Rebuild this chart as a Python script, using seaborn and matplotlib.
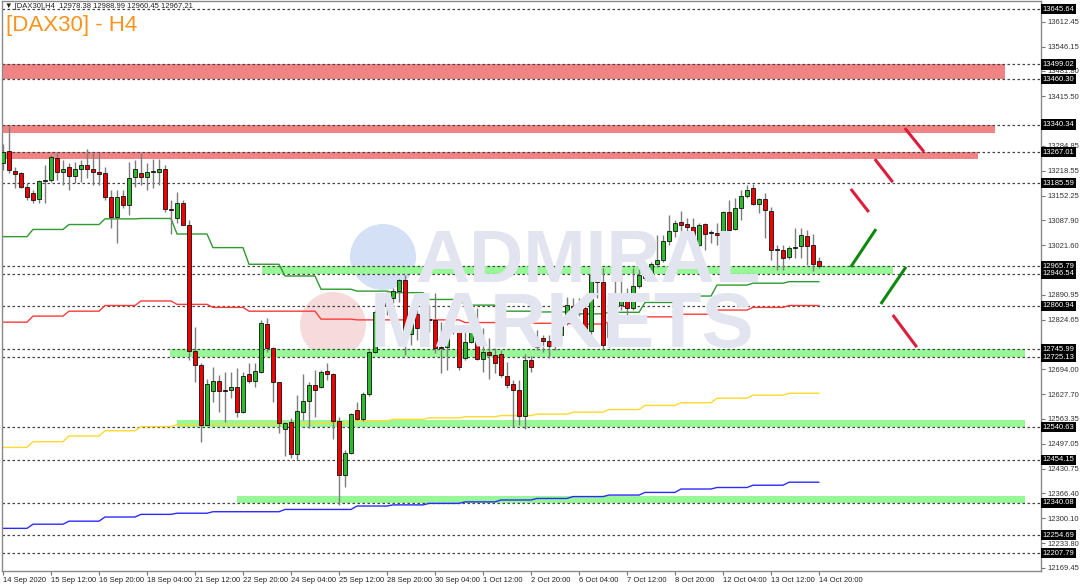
import numpy as np
import pandas as pd
import seaborn as sns
import matplotlib.pyplot as plt
import matplotlib.transforms as mtransforms
from matplotlib.patches import Rectangle, Ellipse

sns.set_style("white")
plt.rcParams["font.family"] = ["Liberation Sans", "DejaVu Sans"]

# H4 candles, 14 Sep 04:00 .. 14 Oct 20:00
opens = [13239, 13271, 13217, 13211, 13176, 13160, 13144, 13190, 13194, 13253,
         13216, 13227, 13204, 13223, 13233, 13223, 13214, 13211, 13150, 13095,
         13151, 13128, 13201, 13211, 13202, 13215, 13214, 13224, 13116, 13092,
         13132, 13076, 12742, 12706, 12546, 12636, 12662, 12639, 12639, 12646,
         12580, 12680, 12662, 12687, 12813, 12751, 12660, 12536, 12553, 12469,
         12581, 12610, 12652, 12646, 12689, 12680, 12557, 12413, 12471, 12587,
         12561, 12627, 12739, 12845, 12861, 12881, 12900, 12929, 12786, 12839,
         12802, 12825, 12824, 12753, 12753, 12799, 12808, 12722, 12766, 12806,
         12720, 12738, 12731, 12733, 12676, 12654, 12640, 12571, 12718, 12753,
         12775, 12768, 12756, 12784, 12822, 12861, 12855, 12856, 12795, 12943,
         12925, 12779, 12817, 12863, 12894, 12855, 12913, 12934, 12947, 12973,
         12982, 13032, 13060, 13083, 13077, 13070, 13022, 13077, 13054, 13053,
         13046, 13110, 13063, 13121, 13151, 13172, 13130, 13143, 13113, 13011,
         13009, 12989, 13013, 13019, 13047, 13022, 12978.38]
highs = [13290, 13336, 13229, 13216, 13185, 13167, 13194, 13233, 13260, 13264,
         13246, 13238, 13242, 13246, 13275, 13264, 13264, 13229, 13167, 13167,
         13167, 13242, 13246, 13264, 13238, 13248, 13248, 13233, 13142, 13163,
         13141, 13088, 12806, 12709, 12669, 12699, 12678, 12687, 12687, 12696,
         12687, 12709, 12709, 12824, 12828, 12753, 12661, 12555, 12564, 12625,
         12680, 12661, 12692, 12692, 12709, 12683, 12568, 12480, 12577, 12608,
         12634, 12744, 12850, 12885, 12899, 12907, 12931, 12943, 12850, 12854,
         12854, 12863, 12894, 12819, 12819, 12868, 12810, 12802, 12815, 12855,
         12802, 12775, 12749, 12744, 12713, 12665, 12665, 12735, 12728, 12797,
         12784, 12784, 12793, 12837, 12885, 12881, 12881, 12876, 12947, 12960,
         12960, 12824, 12956, 12956, 12907, 12960, 12960, 12973, 12978, 13048,
         13048, 13101, 13088, 13113, 13092, 13092, 13079, 13079, 13061, 13079,
         13113, 13141, 13145, 13167, 13180, 13183, 13145, 13160, 13123, 13022,
         13022, 13019, 13066, 13066, 13062, 13051, 12988.99]
lows = [13220, 13211, 13172, 13172, 13141, 13134, 13132, 13132, 13189, 13194,
        13180, 13167, 13185, 13189, 13198, 13180, 13180, 13141, 13068, 13028,
        13121, 13101, 13176, 13180, 13167, 13172, 13180, 13110, 13051, 13079,
        13074, 12718, 12661, 12500, 12546, 12608, 12581, 12555, 12617, 12568,
        12577, 12656, 12647, 12683, 12740, 12608, 12524, 12464, 12458, 12454,
        12559, 12537, 12566, 12643, 12665, 12508, 12335, 12383, 12470, 12559,
        12558, 12624, 12736, 12802, 12837, 12868, 12872, 12731, 12758, 12771,
        12766, 12793, 12736, 12683, 12691, 12788, 12691, 12718, 12762, 12718,
        12687, 12669, 12683, 12674, 12643, 12542, 12546, 12536, 12687, 12744,
        12740, 12722, 12744, 12766, 12810, 12828, 12833, 12775, 12784, 12881,
        12744, 12753, 12793, 12850, 12833, 12850, 12907, 12929, 12938, 12965,
        12978, 13022, 13044, 13044, 13044, 13017, 13013, 13009, 13026, 13022,
        13031, 13057, 13062, 13088, 13145, 13128, 13106, 13040, 12982, 12956,
        12956, 12984, 12987, 12987, 12969, 12954, 12960.45]
closes = [13268, 13220, 13209, 13176, 13150, 13142, 13190, 13193, 13255, 13216,
          13223, 13204, 13223, 13233, 13223, 13216, 13209, 13150, 13095, 13150,
          13128, 13198, 13223, 13202, 13216, 13214, 13224, 13116, 13114, 13132,
          13076, 12742, 12706, 12546, 12654, 12662, 12636, 12637, 12646, 12580,
          12677, 12662, 12689, 12815, 12751, 12660, 12551, 12551, 12469, 12583,
          12610, 12652, 12640, 12687, 12681, 12557, 12413, 12473, 12574, 12561,
          12627, 12739, 12846, 12861, 12881, 12900, 12929, 12786, 12839, 12802,
          12830, 12824, 12751, 12750, 12800, 12806, 12700, 12766, 12806, 12720,
          12738, 12731, 12709, 12678, 12652, 12640, 12571, 12718, 12700, 12772,
          12769, 12756, 12784, 12822, 12863, 12855, 12853, 12797, 12943, 12925,
          12758, 12817, 12863, 12894, 12855, 12913, 12943, 12947, 12972, 12982,
          13032, 13060, 13081, 13075, 13070, 13022, 13075, 13050, 13053, 13048,
          13110, 13061, 13121, 13151, 13167, 13130, 13143, 13114, 13009, 13009,
          12987, 13013, 13017, 13048, 13019, 12973, 12967.21]

# daily moving averages (one value per trading day, stepped on H4)
day_sizes = [5] + [6] * 22
ma_green = [13044, 13063, 13076, 13091, 13092, 13051, 13015, 12971, 12940, 12905,
            12900, 12896, 12878, 12863, 12847, 12845, 12840, 12844, 12870, 12887,
            12916, 12921, 12925]
ma_red = [12818, 12834, 12847, 12862, 12874, 12865, 12857, 12847, 12847, 12826,
          12824, 12824, 12824, 12817, 12815, 12815, 12813, 12819, 12832, 12839,
          12850, 12857, 12862]
ma_yellow = [12487, 12502, 12517, 12531, 12542, 12547, 12548, 12549, 12550, 12552,
             12557, 12561, 12565, 12568, 12571, 12575, 12580, 12587, 12598, 12605,
             12617, 12625, 12630]
ma_blue = [12273, 12284, 12292, 12303, 12310, 12313, 12317, 12317, 12323, 12323,
           12332, 12335, 12339, 12343, 12348, 12352, 12357, 12361, 12368, 12377,
           12381, 12387, 12395]

x_labels = ["14 Sep 2020", "15 Sep 12:00", "16 Sep 20:00", "18 Sep 04:00",
            "21 Sep 12:00", "22 Sep 20:00", "24 Sep 04:00", "25 Sep 12:00",
            "28 Sep 20:00", "30 Sep 04:00", "1 Oct 12:00", "2 Oct 20:00",
            "6 Oct 04:00", "7 Oct 12:00", "8 Oct 20:00", "12 Oct 04:00",
            "13 Oct 12:00", "14 Oct 20:00"]
price_ticks = [13612.45, 13546.15, 13481.80, 13415.50, 13349.20, 13284.85,
               13218.55, 13152.25, 13087.90, 13021.60, 12956.25, 12890.95,
               12824.65, 12759.35, 12694.00, 12627.70, 12563.35, 12497.05,
               12430.75, 12366.40, 12300.10, 12233.80, 12169.45]
hidden_ticks = [13349.20, 12956.25, 12759.35]
levels = [13645.64, 13499.02, 13460.30, 13340.34, 13267.01, 13185.59, 12965.79,
          12946.54, 12860.94, 12745.99, 12725.13, 12540.63, 12454.15, 12340.08,
          12254.69, 12207.79]

# zones: (low, high, start bar, end bar)
red_zones = [(13460.30, 13499.02, -1, 167.0), (13319, 13340.34, -1, 165.3),
             (13248, 13267.01, -1, 162.5)]
green_zones = [(12946.54, 12965.79, 43.2, 148.3), (12725.13, 12745.99, 27.8, 170.3),
               (12540.63, 12560, 29.0, 170.3), (12340.08, 12358, 39.0, 170.3)]

# drawn arrows: (bar0, price0, bar1, price1)
red_strokes = [(150.3, 13331, 153.5, 13268), (145.3, 13249, 148.3, 13188),
               (141.3, 13170, 144.3, 13109), (148.3, 12837, 152.3, 12752)]
green_strokes = [(141.3, 12964, 145.5, 13064), (146.3, 12866, 150.5, 12964)]

n = len(opens)
idx = np.arange(n)
df = pd.DataFrame({"bar": idx, "open": opens, "high": highs, "low": lows, "close": closes})
for name, vals in [("green", ma_green), ("red", ma_red), ("yellow", ma_yellow), ("blue", ma_blue)]:
    df["ma_" + name] = np.repeat(vals, day_sizes)

W, H = 1080, 587
fig = plt.figure(figsize=(W / 100, H / 100), dpi=100)
ax = fig.add_axes([2 / W, 16 / H, 1039 / W, 570 / H])

# watermark
for (cx, cy, r, col) in [(383, 257, 33, "#d3e0f6"), (333, 325, 33, "#f7dadb")]:
    ax.add_patch(Ellipse((cx / W, 1 - cy / H), 2 * r / W, 2 * r / H,
                         transform=fig.transFigure, color=col, zorder=0.2, lw=0))
fig.text(415 / W, 1 - 263 / H, "ADMIRAL", fontsize=54, fontweight="bold",
         color="#e2e5f0", va="center", ha="left", zorder=0.3, family="Liberation Sans")
fig.text(370 / W, 1 - 327 / H, "MARKETS", fontsize=56, fontweight="bold",
         color="#e2e5f0", va="center", ha="left", zorder=0.3, family="Liberation Sans")

for lo, hi, b0, b1 in red_zones:
    ax.add_patch(Rectangle((b0, lo), b1 - b0, hi - lo, color="#f08484", lw=0, zorder=1))
for lo, hi, b0, b1 in green_zones:
    ax.add_patch(Rectangle((b0, lo), b1 - b0, hi - lo, color="#98f898", lw=0, zorder=1))

for lv in levels:
    ax.axhline(lv, color="#444444", lw=0.9, ls=(0, (2, 2)), zorder=2)

# moving averages
for name, col in [("green", "#2f9a2f"), ("red", "#ff3b3b"), ("yellow", "#ffd92e"), ("blue", "#2b2bff")]:
    sns.lineplot(data=df, x="bar", y="ma_" + name, color=col, lw=1, ax=ax, zorder=2.5)

# candles
up = df["close"] >= df["open"]
ax.vlines(df["bar"], df["low"], df["high"], color="#7d7d7d", lw=1, zorder=3)
body_lo = np.minimum(df["open"], df["close"])
body_h = np.maximum(np.abs(df["close"] - df["open"]), 2.5)
ax.bar(df["bar"], body_h, bottom=body_lo, width=0.68,
       color=np.where(up, "#2dbb2d", "#f20000"), edgecolor="#111111", lw=0.6, zorder=4)

for b0, p0, b1, p1 in red_strokes:
    ax.plot([b0, b1], [p0, p1], color="#dc1e3c", lw=2.2, solid_capstyle="butt", zorder=5)
for b0, p0, b1, p1 in green_strokes:
    ax.plot([b0, b1], [p0, p1], color="#0d8a0d", lw=2.2, solid_capstyle="butt", zorder=5)

ax.set_xlim(-1 / 6, 173.0)
ax.set_ylim(12160.3, 13666.8)

ax.set_xticks(np.arange(0, n, 8))
ax.set_xticklabels(x_labels, ha="left", fontsize=5.5, color="#222222")
ax.yaxis.tick_right()
ax.set_yticks(price_ticks)
ax.set_yticklabels(["" if p in hidden_ticks else f"{p:.2f}" for p in price_ticks],
                   fontsize=5.5, color="#333333")
ax.tick_params(axis="both", length=3, width=0.8, color="#777777", pad=2)
ax.tick_params(axis="x", direction="out", bottom=True, pad=1.5)
ax.tick_params(axis="y", direction="out", right=True)
ax.set_xlabel("")
ax.set_ylabel("")
for s in ax.spines.values():
    s.set_color("#8a8a8a")
    s.set_linewidth(1)

trans = mtransforms.blended_transform_factory(ax.transAxes, ax.transData)
for lv in levels:
    ax.text(1.0015, lv, f"{lv:.2f}", transform=trans, fontsize=5.5, color="white",
            va="center", ha="left", clip_on=False, zorder=10,
            bbox=dict(boxstyle="square,pad=0.2", fc="black", ec="none"))

fig.text(5 / W, 1 - 6 / H, "\u25bc [DAX30],H4  12978.38 12988.99 12960.45 12967.21",
         fontsize=5.5, color="#222222", va="center", ha="left",
         family=["Liberation Sans", "DejaVu Sans"])
fig.text(6 / W, 1 - 25 / H, "[DAX30] - H4", fontsize=16, color="#f7941d",
         va="center", ha="left")

fig.savefig("out.png", dpi=100)
